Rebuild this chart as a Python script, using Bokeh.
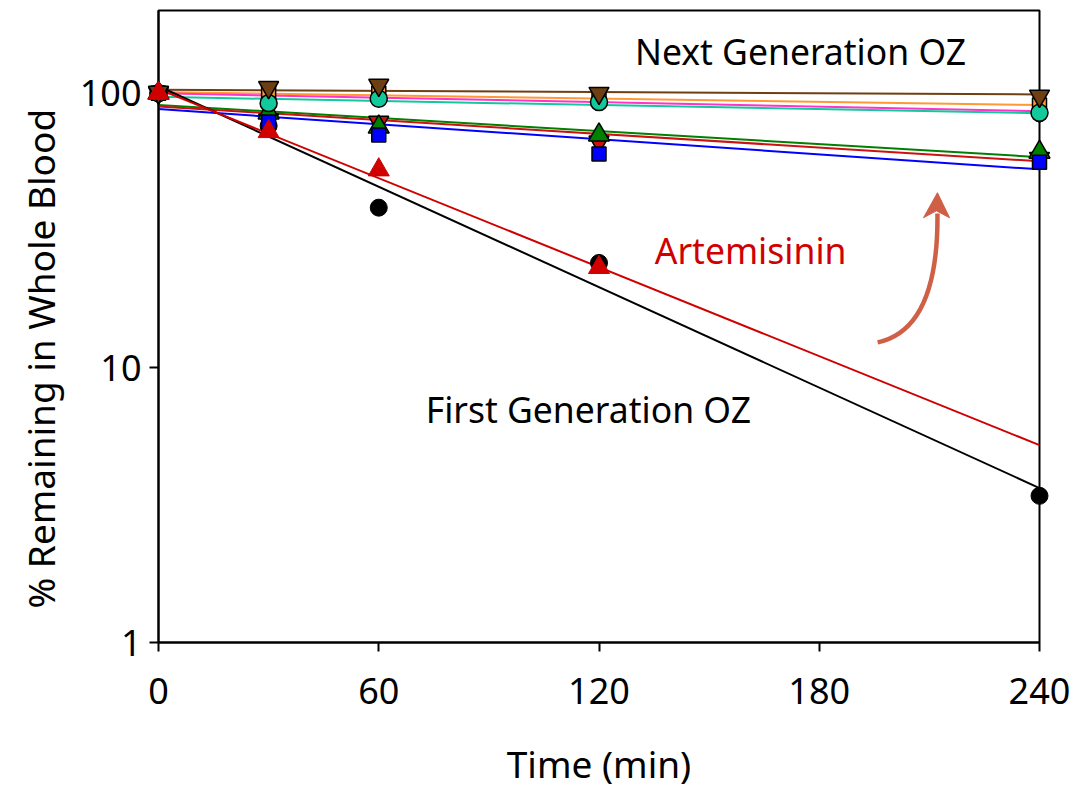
from bokeh.plotting import figure
from bokeh.models import FixedTicker, PrintfTickFormatter, Label, Range1d, Title
from bokeh.embed import file_html
from bokeh.resources import INLINE

# ---------------- data ----------------
times = [0, 30, 60, 120, 240]
x_ticks = [0, 60, 120, 180, 240]
y_ticks = [1, 10, 100]

# first generation OZ (black circles)
oz_first = [100, 76, 38.3, 24.1, 3.42]
# artemisinin (red triangles, no value at 240 min)
art_times = [0, 30, 60, 120]
artemisinin = [100, 72.5, 52.6, 23.2]
# next generation OZ compounds
brown_vals = [101, 105, 107, 100, 97.7]
orange_vals = [100, 100.6, 100, 97, 90.5]
magenta_vals = [100, 99, 98, 96, 85]
teal_vals = [100, 92, 95.5, 92.8, 84.8]
green_vals = [100, 84.8, 75.3, 70.5, 61]
darkred_vals = [100, 80, 78.5, 66.5, 58]
blue_vals = [100, 78.5, 70.4, 60.1, 56.1]

# fitted mono-exponential lines: value at t=0 and at t=240
fit_times = [0, 240]
fit_black = [106, 3.65]
fit_art = [103.4, 5.23]
fit_brown = [103, 99]
fit_orange = [101, 90.5]
fit_magenta = [100, 86]
fit_teal = [97, 84.5]
fit_green = [90.6, 58.5]
fit_darkred = [89.5, 56.5]
fit_blue = [87.5, 52.8]

FONT = "Noto Sans"

p = figure(width=1074, height=791, y_axis_type="log",
           x_range=Range1d(0, 240), y_range=Range1d(1, 200),
           output_backend="svg", toolbar_location=None,
           min_border_left=158, min_border_right=35,
           min_border_top=10, min_border_bottom=147)
p.grid.visible = False
p.outline_line_color = "black"
p.outline_line_width = 2
p.background_fill_color = "white"
p.border_fill_color = "white"

for ax in (p.xaxis[0], p.yaxis[0]):
    ax.axis_line_width = 2
    ax.major_tick_line_width = 2
    ax.major_tick_out = 9
    ax.major_tick_in = 0
    ax.minor_tick_out = 0
    ax.minor_tick_in = 0
    ax.major_label_text_font = FONT
    ax.major_label_text_font_size = "36px"
    ax.major_label_text_color = "black"

p.xaxis.ticker = FixedTicker(ticks=x_ticks)
p.xaxis.major_label_standoff = 26
p.xaxis.axis_label = "Time (min)"
p.xaxis.axis_label_text_font = FONT
p.xaxis.axis_label_text_font_size = "37px"
p.xaxis.axis_label_text_font_style = "normal"
p.xaxis.axis_label_text_color = "black"
p.xaxis.axis_label_standoff = 31

p.yaxis.ticker = FixedTicker(ticks=y_ticks, minor_ticks=[])
p.yaxis.formatter = PrintfTickFormatter(format="%d")
p.yaxis.major_label_standoff = 8

# y axis title as a side title so it can be shifted like the original
p.add_layout(Title(text="% Remaining in Whole Blood", align="left", offset=34,
                   vertical_align="bottom",
                   text_font=FONT, text_font_size="37px", text_font_style="normal",
                   text_color="black", standoff=21), "left")

# fitted lines
fits = [
    (fit_brown, "#6E3F12"), (fit_orange, "#FF9933"), (fit_magenta, "#FF33CC"),
    (fit_teal, "#11C99A"), (fit_green, "#008000"), (fit_darkred, "#CC1111"),
    (fit_blue, "#0000FF"), (fit_black, "black"), (fit_art, "#D00000"),
]
for vals, col in fits:
    p.line(fit_times, vals, line_color=col, line_width=2)

# markers (bottom to top)
marker_specs = [
    (times, oz_first, "circle", 17, "black", "black", 1),
    (times, darkred_vals, "inverted_triangle", 20, "#CC1111", "black", 1.5),
    (times, green_vals, "triangle", 21, "#008000", "black", 1.5),
    (times, blue_vals, "square", 14, "#0000FF", "black", 1.5),
    (times, magenta_vals, "diamond", 20, "#FF33CC", "black", 1.5),
    (times, orange_vals, "square", 14, "#FF9933", "black", 1.5),
    (times, teal_vals, "circle", 17, "#11C99A", "black", 1.5),
    (times, brown_vals, "inverted_triangle", 20, "#6E3F12", "black", 1.5),
    (art_times, artemisinin, "triangle", 21, "#D00000", "#D00000", 1),
]
for xs, ys, mk, sz, fc, lc, lw in marker_specs:
    p.scatter(xs, ys, marker=mk, size=sz, fill_color=fc, line_color=lc,
              line_width=lw, level="overlay")

# curved arrow annotation
ARROW = "#CF5F45"
p.quadratic(x0=[195.9], y0=[12.38], x1=[212.2], y1=[36.5], cx=[212.5], cy=[13.8],
            line_color=ARROW, line_width=4.5)
p.patch([212.2, 208.4, 211.9, 215.5], [43.4, 35.2, 37.3, 35.2],
        fill_color=ARROW, line_color=ARROW, line_width=1)

# text annotations
p.add_layout(Label(x=174.9, y=143, text="Next Generation OZ", text_align="center",
                   text_baseline="middle", text_font=FONT, text_font_size="35.5px",
                   text_color="black"))
p.add_layout(Label(x=161.3, y=26.9, text="Artemisinin", text_align="center",
                   text_baseline="middle", text_font=FONT, text_font_size="35.5px",
                   text_color="#D00000"))
p.add_layout(Label(x=117.1, y=7.07, text="First Generation OZ", text_align="center",
                   text_baseline="middle", text_font=FONT, text_font_size="35.5px",
                   text_color="black"))

open("out.html", "w").write(file_html(p, INLINE))
